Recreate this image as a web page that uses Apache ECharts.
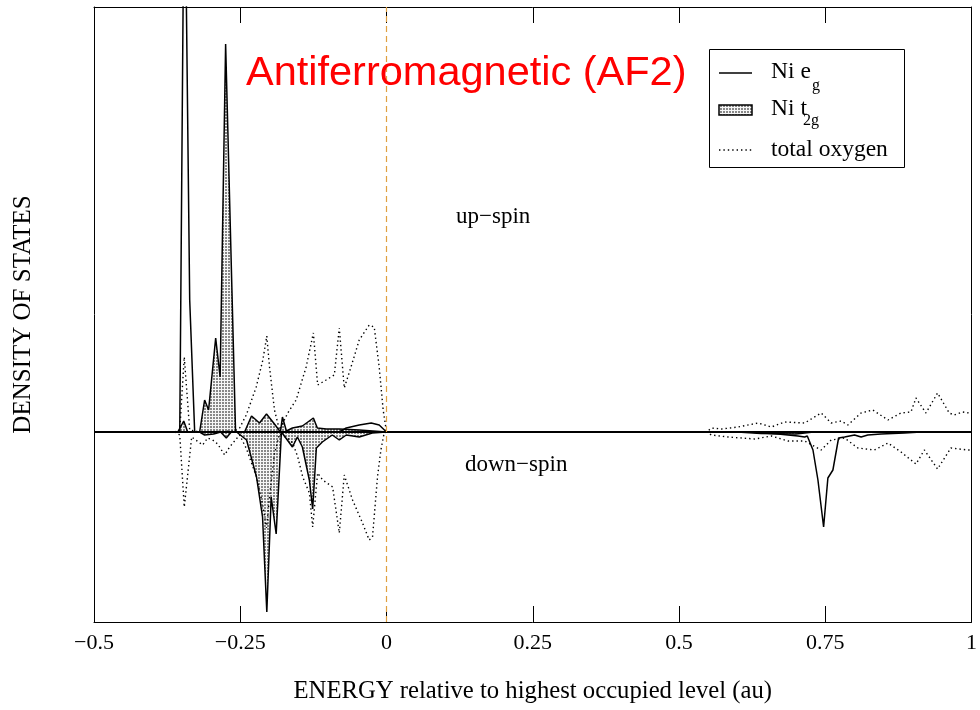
<!DOCTYPE html>
<html><head><meta charset="utf-8">
<script src="https://cdn.jsdelivr.net/npm/echarts/dist/echarts.min.js"></script>
<style>html,body{margin:0;padding:0;background:#fff}#c{width:980px;height:710px}</style>
</head><body><div id="c"></div>
<script>
// ---- data (energy in au, density of states in arbitrary units) ----
const xTickLabels = ['\u22120.5', '\u22120.25', '0', '0.25', '0.5', '0.75', '1'];
const xTickValues = [-0.5, -0.25, 0, 0.25, 0.5, 0.75, 1];

const t2gUp = [[-0.3568,0],[-0.3534,0],[-0.3466,1.1],[-0.3398,0],[-0.3194,0],[-0.3109,3.2],[-0.3041,2.2],[-0.2920,9.4],[-0.2844,5.5],[-0.2750,38.8],[-0.2580,0],[-0.2426,0],[-0.2307,1.6],[-0.2171,0.9],[-0.2051,1.8],[-0.1915,0.8],[-0.1813,0],[-0.1779,1.5],[-0.1711,0.1],[-0.1608,0.4],[-0.1438,0.6],[-0.1250,1.4],[-0.1182,0.4],[-0.1029,0.3],[-0.0807,0.3],[-0.0466,0.2],[0,0]];

const t2gDown = [[-0.3568,0],[-0.3194,0],[-0.3109,-0.3],[-0.2954,-0.2],[-0.2835,0],[-0.2739,-0.6],[-0.2654,0],[-0.2563,0],[-0.2392,-0.8],[-0.2222,-4.5],[-0.2119,-8.5],[-0.2046,-18.0],[-0.1971,-6.5],[-0.1886,-10.2],[-0.1796,0],[-0.1608,-1.5],[-0.1523,-0.5],[-0.1438,-1.5],[-0.1319,-4.8],[-0.1262,-7.7],[-0.1199,-1.6],[-0.1097,-1.0],[-0.0927,-0.3],[-0.0807,-0.8],[-0.0688,-0.3],[-0.0466,-0.5],[-0.0244,-0.1],[0,0],[0.60,0],[0.64,-0.15],[0.70,-0.2],[0.73,0]];

const egUp = [[-0.3620,0],[-0.3534,0],[-0.3454,60],[-0.3364,13.2],[-0.3279,0],[-0.0807,0],[-0.0688,0.4],[-0.0466,0.7],[-0.0261,0.9],[-0.0125,0.7],[0,0]];

const egDown = [[-0.3620,0],[0.62,0],[0.6693,-0.2],[0.7034,-0.4],[0.7148,-0.5],[0.7193,-0.4],[0.7290,-1.8],[0.7375,-4.8],[0.7472,-9.5],[0.7545,-4.6],[0.7631,-3.8],[0.7728,-0.6],[0.7830,-0.5],[0.8001,-0.3],[0.8113,-0.5],[0.8227,-0.3],[0.8454,-0.2],[0.8853,-0.1],[0.9136,0]];

const oxygenUp = [[-0.3620,0],[-0.3534,0.2],[-0.3457,7.5],[-0.3364,0.2],[-0.3194,0],[-0.2597,0.1],[-0.2511,0.4],[-0.2397,1.7],[-0.2227,4.5],[-0.2114,7.2],[-0.2046,9.6],[-0.2000,6.5],[-0.1915,2.2],[-0.1830,0.2],[-0.1688,1.9],[-0.1545,3.2],[-0.1374,6.5],[-0.1250,9.9],[-0.1177,4.7],[-0.1033,5.2],[-0.0892,5.7],[-0.0807,10.4],[-0.0722,4.4],[-0.0607,6.5],[-0.0466,9.2],[-0.0296,10.7],[-0.0210,10.5],[-0.0125,6.5],[-0.0057,2.2],[0,0],
  [0.5471,0],[0.5556,0.4],[0.5727,0.3],[0.6011,0.5],[0.6352,0.9],[0.6579,0.5],[0.6807,1.0],[0.7148,0.9],[0.7431,1.9],[0.7602,0.9],[0.7772,1.1],[0.7886,0.7],[0.8113,1.9],[0.8313,2.2],[0.8573,1.2],[0.8795,1.9],[0.8965,2.0],[0.9051,3.4],[0.9221,1.9],[0.9420,3.9],[0.9620,1.9],[0.9705,1.7],[0.9847,2.0],[0.9961,1.9],[1.0,1.9]];

const oxygenDown = [[-0.3620,0],[-0.3534,-0.3],[-0.3457,-7.5],[-0.3330,-0.5],[-0.3143,-1.3],[-0.3058,-0.6],[-0.2971,-0.8],[-0.2886,-1.2],[-0.2767,-2.3],[-0.2682,-1.5],[-0.2511,-0.3],[-0.2392,-1.7],[-0.2222,-4.5],[-0.2119,-7.2],[-0.2051,-9.6],[-0.2000,-6.5],[-0.1915,-2.2],[-0.1830,-0.2],[-0.1694,-0.6],[-0.1602,-1.1],[-0.1517,-2.5],[-0.1432,-4.5],[-0.1318,-6.1],[-0.1262,-9.5],[-0.1177,-4.1],[-0.1091,-4.8],[-0.0921,-5.5],[-0.0807,-10.1],[-0.0722,-4.3],[-0.0580,-6.8],[-0.0410,-9.1],[-0.0296,-10.8],[-0.0239,-10.5],[-0.0154,-4.5],[-0.0096,-1.8],[-0.0040,-0.1],[0,0],
  [0.5471,0],[0.5556,-0.3],[0.5841,-0.5],[0.6296,-0.7],[0.6579,-0.4],[0.6863,-0.9],[0.7148,-0.9],[0.7431,-1.8],[0.7602,-0.8],[0.7830,-0.6],[0.8057,-1.6],[0.8341,-1.8],[0.8573,-1.1],[0.8795,-2.0],[0.9051,-3.2],[0.9194,-1.8],[0.9420,-3.7],[0.9647,-1.6],[0.9932,-1.8],[1.0,-1.8]];

// ---- styling ----
function stipple() {
  const c = document.createElement('canvas');
  c.width = 3; c.height = 3;
  const g = c.getContext('2d');
  g.fillStyle = '#f6f6f6'; g.fillRect(0, 0, 3, 3);
  g.fillStyle = '#888888'; g.fillRect(0, 0, 2, 2);
  return c;
}
const pat = { image: stipple(), repeat: 'repeat' };
const serif = '"Liberation Serif", "Times New Roman", serif';

const chart = echarts.init(document.getElementById('c'), null, { renderer: 'canvas' });

function fmtTick(v) {
  const i = xTickValues.findIndex(t => Math.abs(t - v) < 1e-9);
  return i >= 0 ? xTickLabels[i] : '';
}

const option = {
  animation: false,
  backgroundColor: '#fff',
  grid: { left: 94, right: 6, top: 7, bottom: 88, show: false },
  title: {
    text: 'Antiferromagnetic (AF2)', left: 246, top: 53, padding: 0,
    textStyle: { color: '#ff0000', fontSize: 41.5, fontWeight: 'normal', fontFamily: '"Liberation Sans", Arial, sans-serif' }
  },
  xAxis: [{
    type: 'value', min: -0.5, max: 1, interval: 0.25, position: 'bottom',
    axisLine: { show: true, onZero: false, lineStyle: { color: '#000', width: 1 } },
    axisTick: { show: true, inside: true, length: 16, lineStyle: { color: '#000', width: 1 } },
    axisLabel: { formatter: fmtTick, fontFamily: serif, fontSize: 22, color: '#000', margin: 10 },
    splitLine: { show: false },
    name: 'ENERGY relative to highest occupied level (au)', nameLocation: 'middle', nameGap: 57,
    nameTextStyle: { fontFamily: serif, fontSize: 24.7, color: '#000' }
  }, {
    type: 'value', min: -0.5, max: 1, interval: 0.25, position: 'top',
    axisLine: { show: true, onZero: false, lineStyle: { color: '#000', width: 1 } },
    axisTick: { show: true, inside: true, length: 16, lineStyle: { color: '#000', width: 1 } },
    axisLabel: { show: false }, splitLine: { show: false }
  }],
  yAxis: [{
    type: 'value', min: -19, max: 42.5, position: 'left',
    axisLine: { show: true, onZero: false, lineStyle: { color: '#000', width: 1 } },
    axisTick: { show: false }, axisLabel: { show: false }, splitLine: { show: false },
    name: 'DENSITY OF STATES', nameLocation: 'middle', nameGap: 58, nameRotate: 90,
    nameTextStyle: { fontFamily: serif, fontSize: 25, color: '#000' }
  }, {
    type: 'value', min: -19, max: 42.5, position: 'right',
    axisLine: { show: true, onZero: false, lineStyle: { color: '#000', width: 1 } },
    axisTick: { show: false }, axisLabel: { show: false }, splitLine: { show: false }
  }],
  series: [
    { name: 'Ni t2g up', type: 'line', data: t2gUp, symbol: 'none', z: 2,
      lineStyle: { color: '#000', width: 1.5 }, areaStyle: { color: pat, opacity: 1 } },
    { name: 'Ni t2g down', type: 'line', data: t2gDown, symbol: 'none', z: 2,
      lineStyle: { color: '#000', width: 1.5 }, areaStyle: { color: pat, opacity: 1 } },
    { name: 'Ni eg up', type: 'line', data: egUp, symbol: 'none', z: 3,
      lineStyle: { color: '#000', width: 1.5 } },
    { name: 'Ni eg down', type: 'line', data: egDown, symbol: 'none', z: 3,
      lineStyle: { color: '#000', width: 1.5 } },
    { name: 'total oxygen up', type: 'line', data: oxygenUp, symbol: 'none', z: 4,
      lineStyle: { color: '#000', width: 1.4, type: [1.4, 3] } },
    { name: 'total oxygen down', type: 'line', data: oxygenDown, symbol: 'none', z: 4,
      lineStyle: { color: '#000', width: 1.4, type: [1.4, 3] },
      markLine: {
        silent: true, symbol: 'none', label: { show: false }, animation: false,
        data: [
          { yAxis: 0, lineStyle: { color: '#000', width: 2.2, type: 'solid' } },
          { xAxis: 0, lineStyle: { color: '#e0a040', width: 1.2, type: [6, 4] } }
        ]
      } }
  ],
  graphic: [
    { type: 'text', x: 456, y: 217, style: { text: 'up\u2212spin', font: '23px ' + serif, fill: '#000', verticalAlign: 'middle' } },
    { type: 'text', x: 465, y: 465, style: { text: 'down\u2212spin', font: '23px ' + serif, fill: '#000', verticalAlign: 'middle' } },
    { type: 'rect', shape: { x: 709.5, y: 49.5, width: 195, height: 118 }, style: { fill: '#fff', stroke: '#000', lineWidth: 1 }, z: 100 },
    { type: 'line', shape: { x1: 719, y1: 73, x2: 752, y2: 73 }, style: { stroke: '#000', lineWidth: 1.5 }, z: 101 },
    { type: 'rect', shape: { x: 719, y: 105, width: 33, height: 10 }, style: { fill: pat, stroke: '#000', lineWidth: 1.5 }, z: 101 },
    { type: 'line', shape: { x1: 719, y1: 150, x2: 752, y2: 150 }, style: { stroke: '#000', lineWidth: 1.4, lineDash: [1.4, 3] }, z: 101 },
    { type: 'text', x: 771, y: 72, style: { text: 'Ni e', font: '23.5px ' + serif, fill: '#000', verticalAlign: 'middle' }, z: 101 },
    { type: 'text', x: 812, y: 86, style: { text: 'g', font: '16px ' + serif, fill: '#000', verticalAlign: 'middle' }, z: 101 },
    { type: 'text', x: 771, y: 109, style: { text: 'Ni t', font: '23.5px ' + serif, fill: '#000', verticalAlign: 'middle' }, z: 101 },
    { type: 'text', x: 803, y: 121, style: { text: '2g', font: '16px ' + serif, fill: '#000', verticalAlign: 'middle' }, z: 101 },
    { type: 'text', x: 771, y: 150, style: { text: 'total oxygen', font: '23.5px ' + serif, fill: '#000', verticalAlign: 'middle' }, z: 101 }
  ]
};
chart.setOption(option);
</script>
</body></html>
